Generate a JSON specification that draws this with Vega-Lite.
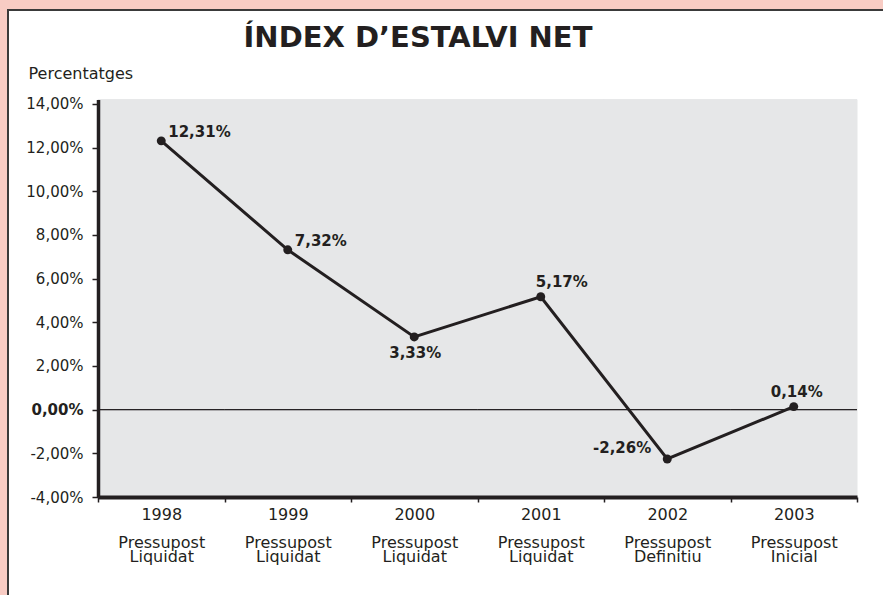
{
  "$schema": "https://vega.github.io/schema/vega-lite/v6.json",
  "width": 880,
  "height": 600,
  "autosize": {"type": "none"},
  "padding": {"left": 8, "top": 10, "right": 0, "bottom": 0},
  "background": "#f8ccc4",
  "config": {
    "locale": {"number": {"decimal": ",", "thousands": ".", "grouping": [3], "currency": ["", " €"], "minus": "-"}},
    "view": {"fill": "white", "stroke": "#3a3a3a", "strokeWidth": 2},
    "font": "DejaVu Sans"
  },
  "title": {
    "text": "ÍNDEX D’ESTALVI NET",
    "font": "DejaVu Sans",
    "fontSize": 29,
    "fontWeight": "bold",
    "color": "#231f20",
    "anchor": "middle",
    "frame": "group",
    "dx": -30,
    "offset": -66,
    "baseline": "alphabetic"
  },
  "data": {
    "values": [
      {"periode": "1998 Pressupost Liquidat", "valor": 0.1231},
      {"periode": "1999 Pressupost Liquidat", "valor": 0.0732},
      {"periode": "2000 Pressupost Liquidat", "valor": 0.0333},
      {"periode": "2001 Pressupost Liquidat", "valor": 0.0517},
      {"periode": "2002 Pressupost Definitiu", "valor": -0.0226},
      {"periode": "2003 Pressupost Inicial", "valor": 0.0014}
    ]
  },
  "encoding": {
    "x": {
      "field": "periode",
      "type": "ordinal",
      "sort": null,
      "scale": {"range": [90, 849], "paddingInner": 0, "paddingOuter": 0},
      "axis": {
        "title": null,
        "orient": "bottom",
        "offset": -113,
        "zindex": 1,
        "domainColor": "#231f20",
        "domainWidth": 4,
        "tickBand": "extent",
        "tickColor": "#231f20",
        "tickSize": 5,
        "tickWidth": 1.5,
        "labelAngle": 0,
        "labelFont": "DejaVu Sans",
        "labelFontSize": 16,
        "labelColor": "#231f20",
        "labelLineHeight": 14,
        "labelPadding": 4,
        "labelExpr": "[split(datum.label, ' ')[0], '\u200b', split(datum.label, ' ')[1], split(datum.label, ' ')[2]]"
      }
    }
  },
  "layer": [
    {
      "mark": {"type": "rect", "fill": "#e6e7e8", "stroke": "#e6e7e8", "strokeWidth": 1},
      "encoding": {
        "y": {"datum": -0.04, "type": "quantitative"},
        "y2": {"datum": 0.142}
      }
    },
    {
      "mark": {"type": "rect", "fill": "transparent", "stroke": "#231f20", "strokeWidth": 1},
      "encoding": {
        "y": {"datum": 0, "type": "quantitative"},
        "y2": {"datum": 0}
      }
    },
    {
      "mark": {"type": "line", "color": "#231f20", "strokeWidth": 3, "point": {"filled": true, "size": 80, "color": "#231f20"}},
      "encoding": {
        "y": {
          "field": "valor",
          "type": "quantitative",
          "scale": {"domain": [-0.04, 0.142], "range": [487, 89.6], "nice": false, "zero": false},
          "axis": {
            "title": "Percentatges",
            "offset": -90,
            "zindex": 1,
            "values": [-0.04, -0.02, 0, 0.02, 0.04, 0.06, 0.08, 0.1, 0.12, 0.14],
            "format": ".2%",
            "grid": false,
            "domainColor": "#231f20",
            "domainWidth": 3.5,
            "tickColor": "#231f20",
            "tickSize": 6,
            "tickWidth": 1.5,
            "labelFont": "DejaVu Sans",
            "labelFontSize": 15,
            "labelColor": "#231f20",
            "labelPadding": 9,
            "labelFontWeight": {"condition": {"test": "datum.value === 0", "value": "bold"}, "value": "normal"},
            "titleAngle": 0,
            "titleX": -70,
            "titleY": 63,
            "titleAlign": "left",
            "titleBaseline": "middle",
            "titleFont": "DejaVu Sans",
            "titleFontSize": 16,
            "titleFontWeight": "normal",
            "titleColor": "#231f20"
          }
        }
      }
    },
    {
      "transform": [{"filter": "slice(datum.periode, 0, 4) == '1998' || slice(datum.periode, 0, 4) == '1999'"}],
      "mark": {"type": "text", "font": "DejaVu Sans", "fontSize": 15, "fontWeight": "bold", "color": "#231f20", "align": "left", "baseline": "middle", "dx": 7, "dy": -9},
      "encoding": {
        "y": {"field": "valor", "type": "quantitative"},
        "text": {"field": "valor", "type": "quantitative", "format": ".2%"}
      }
    },
    {
      "transform": [{"filter": "slice(datum.periode, 0, 4) == '2000'"}],
      "mark": {"type": "text", "font": "DejaVu Sans", "fontSize": 15, "fontWeight": "bold", "color": "#231f20", "align": "center", "baseline": "middle", "dx": 1, "dy": 16},
      "encoding": {
        "y": {"field": "valor", "type": "quantitative"},
        "text": {"field": "valor", "type": "quantitative", "format": ".2%"}
      }
    },
    {
      "transform": [{"filter": "slice(datum.periode, 0, 4) == '2001'"}],
      "mark": {"type": "text", "font": "DejaVu Sans", "fontSize": 15, "fontWeight": "bold", "color": "#231f20", "align": "left", "baseline": "middle", "dx": -5, "dy": -15},
      "encoding": {
        "y": {"field": "valor", "type": "quantitative"},
        "text": {"field": "valor", "type": "quantitative", "format": ".2%"}
      }
    },
    {
      "transform": [{"filter": "slice(datum.periode, 0, 4) == '2003'"}],
      "mark": {"type": "text", "font": "DejaVu Sans", "fontSize": 15, "fontWeight": "bold", "color": "#231f20", "align": "center", "baseline": "middle", "dx": 3, "dy": -15},
      "encoding": {
        "y": {"field": "valor", "type": "quantitative"},
        "text": {"field": "valor", "type": "quantitative", "format": ".2%"}
      }
    },
    {
      "transform": [{"filter": "slice(datum.periode, 0, 4) == '2002'"}],
      "mark": {"type": "text", "font": "DejaVu Sans", "fontSize": 15, "fontWeight": "bold", "color": "#231f20", "align": "right", "baseline": "middle", "dx": -16, "dy": -11},
      "encoding": {
        "y": {"field": "valor", "type": "quantitative"},
        "text": {"field": "valor", "type": "quantitative", "format": ".2%"}
      }
    }
  ]
}
